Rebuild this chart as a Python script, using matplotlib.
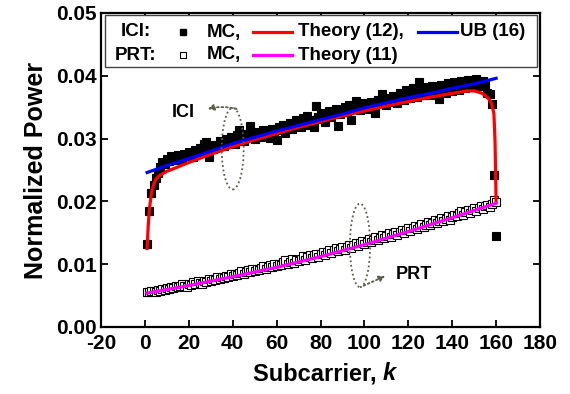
import numpy as np
import matplotlib
matplotlib.use("Agg")
import matplotlib.pyplot as plt
from matplotlib.patches import Ellipse, Rectangle
from matplotlib.lines import Line2D

# ---------------- data ----------------
k_theory_ici = [1, 1.5, 2, 3, 4, 5, 6, 7, 10, 13, 20, 30, 40, 50, 60, 70, 80, 90, 100,
                110, 120, 130, 140, 147, 150, 153, 155, 157, 158, 159, 159.5, 159.8, 160]
theory_ici = [0.0125, 0.0160, 0.0186, 0.0214, 0.0227, 0.0235, 0.0239, 0.0242, 0.0248, 0.0252,
              0.0262, 0.0275, 0.0287, 0.0298, 0.0308, 0.0318, 0.0327, 0.0336, 0.0344,
              0.0352, 0.0359, 0.0366, 0.0372, 0.0376, 0.0376, 0.0373, 0.0369, 0.0362,
              0.0355, 0.0340, 0.0297, 0.0240, 0.0199]

k_ub = [1, 10, 20, 30, 40, 50, 60, 70, 80, 90, 100, 110, 120, 130, 140, 150, 160]
ub_ici = [0.0246, 0.0257, 0.0268, 0.0280, 0.0292, 0.0302, 0.0312, 0.0321, 0.0330, 0.0339,
          0.0349, 0.0357, 0.0365, 0.0372, 0.0380, 0.0387, 0.0396]

k_theory_prt = [1, 20, 40, 60, 80, 100, 120, 140, 160]
theory_prt = [0.0054, 0.0066, 0.0080, 0.0095, 0.0112, 0.0131, 0.0152, 0.0174, 0.0197]

k_mc = list(range(1, 161))
mc_ici = [
    0.0132, 0.0184, 0.0213, 0.0226, 0.0238, 0.0246, 0.0255, 0.0262, 0.0259, 0.0268,
    0.0264, 0.0272, 0.0270, 0.0266, 0.0274, 0.0271, 0.0268, 0.0276, 0.0273, 0.0279,
    0.0275, 0.0271, 0.0282, 0.0278, 0.0285, 0.0281, 0.0292, 0.0294, 0.0270, 0.0286,
    0.0283, 0.0290, 0.0287, 0.0296, 0.0292, 0.0289, 0.0299, 0.0294, 0.0302, 0.0297,
    0.0291, 0.0305, 0.0313, 0.0300, 0.0296, 0.0308, 0.0304, 0.0320, 0.0306, 0.0299,
    0.0311, 0.0308, 0.0303, 0.0314, 0.0310, 0.0306, 0.0301, 0.0316, 0.0312, 0.0297,
    0.0318, 0.0314, 0.0322, 0.0309, 0.0319, 0.0325, 0.0316, 0.0321, 0.0329, 0.0324,
    0.0318, 0.0333, 0.0327, 0.0336, 0.0322, 0.0330, 0.0318, 0.0352, 0.0334, 0.0340,
    0.0331, 0.0327, 0.0338, 0.0344, 0.0335, 0.0341, 0.0347, 0.0320, 0.0339, 0.0345,
    0.0350, 0.0342, 0.0354, 0.0329, 0.0348, 0.0360, 0.0352, 0.0345, 0.0356, 0.0349,
    0.0355, 0.0347, 0.0359, 0.0353, 0.0340, 0.0362, 0.0357, 0.0371, 0.0360, 0.0354,
    0.0365, 0.0358, 0.0368, 0.0362, 0.0356, 0.0373, 0.0366, 0.0361, 0.0377, 0.0369,
    0.0364, 0.0380, 0.0372, 0.0367, 0.0390, 0.0376, 0.0370, 0.0382, 0.0375, 0.0369,
    0.0384, 0.0378, 0.0372, 0.0363, 0.0386, 0.0379, 0.0373, 0.0388, 0.0381, 0.0376,
    0.0390, 0.0383, 0.0378, 0.0392, 0.0386, 0.0380, 0.0393, 0.0388, 0.0382, 0.0391,
    0.0395, 0.0389, 0.0384, 0.0392, 0.0386, 0.0372, 0.0371, 0.0355, 0.0242, 0.0145,
]
mc_prt = [
    0.0056, 0.0055, 0.0058, 0.0057, 0.0055, 0.0059, 0.0058, 0.0061, 0.0059, 0.0062,
    0.0060, 0.0064, 0.0062, 0.0066, 0.0063, 0.0065, 0.0068, 0.0066, 0.0064, 0.0069,
    0.0067, 0.0071, 0.0069, 0.0073, 0.0070, 0.0068, 0.0074, 0.0072, 0.0076, 0.0073,
    0.0077, 0.0075, 0.0079, 0.0076, 0.0080, 0.0078, 0.0082, 0.0079, 0.0084, 0.0081,
    0.0085, 0.0083, 0.0086, 0.0089, 0.0085, 0.0088, 0.0091, 0.0087, 0.0092, 0.0089,
    0.0093, 0.0090, 0.0094, 0.0097, 0.0092, 0.0096, 0.0099, 0.0095, 0.0100, 0.0097,
    0.0101, 0.0098, 0.0103, 0.0106, 0.0100, 0.0104, 0.0108, 0.0102, 0.0107, 0.0105,
    0.0109, 0.0113, 0.0106, 0.0111, 0.0115, 0.0110, 0.0114, 0.0117, 0.0112, 0.0116,
    0.0119, 0.0114, 0.0120, 0.0123, 0.0118, 0.0122, 0.0126, 0.0121, 0.0125, 0.0128,
    0.0123, 0.0127, 0.0131, 0.0126, 0.0130, 0.0134, 0.0129, 0.0133, 0.0137, 0.0132,
    0.0136, 0.0140, 0.0135, 0.0139, 0.0143, 0.0138, 0.0142, 0.0146, 0.0141, 0.0145,
    0.0149, 0.0144, 0.0148, 0.0152, 0.0147, 0.0151, 0.0155, 0.0150, 0.0154, 0.0158,
    0.0153, 0.0157, 0.0161, 0.0156, 0.0160, 0.0164, 0.0159, 0.0163, 0.0167, 0.0162,
    0.0166, 0.0170, 0.0165, 0.0169, 0.0173, 0.0168, 0.0172, 0.0176, 0.0171, 0.0175,
    0.0179, 0.0177, 0.0181, 0.0184, 0.0178, 0.0183, 0.0187, 0.0182, 0.0186, 0.0189,
    0.0185, 0.0190, 0.0193, 0.0188, 0.0192, 0.0195, 0.0191, 0.0196, 0.0203, 0.0199,
]

x_ticks = [-20, 0, 20, 40, 60, 80, 100, 120, 140, 160, 180]
y_ticks = [0.00, 0.01, 0.02, 0.03, 0.04, 0.05]

# ---------------- figure ----------------
plt.rcParams['font.family'] = ['Liberation Sans', 'DejaVu Sans']
plt.rcParams['font.weight'] = 'bold'

W, H = 570, 394
fig = plt.figure(figsize=(W / 100, H / 100), dpi=100)
L, R, T, B = 101, 540, 13, 327
ax = fig.add_axes([L / W, 1 - B / H, (R - L) / W, (B - T) / H])

ax.plot(k_mc, mc_ici, ls='none', marker='s', ms=5.5, mfc='black', mec='black', mew=0.8, zorder=2)
ax.plot(k_mc, mc_prt, ls='none', marker='s', ms=5.5, mfc='white', mec='black', mew=0.8, zorder=2)
ax.plot(k_theory_ici, theory_ici, color='#ff0000', lw=2.3, zorder=3)
ax.plot(k_ub, ub_ici, color='#0000ff', lw=2.3, zorder=4)
ax.plot(k_theory_prt, theory_prt, color='#ff00ff', lw=2.3, zorder=3)

ax.set_xlim(-20, 180)
ax.set_ylim(0, 0.05)
ax.set_xticks(x_ticks)
ax.set_xticklabels([str(v) for v in x_ticks])
ax.set_yticks(y_ticks)
ax.set_yticklabels([f"{v:.2f}" for v in y_ticks])
ax.tick_params(direction='in', top=True, right=True, length=5, width=1.3,
               labelsize=15)
ax.tick_params(axis='x', pad=5)
ax.tick_params(axis='y', pad=3)
for s in ax.spines.values():
    s.set_linewidth(1.6)

xl_anchor = 383 / W
fig.text(xl_anchor, 1 - 374 / H, "Subcarrier, ", ha='right', va='center',
         fontsize=17, fontweight='bold')
fig.text(xl_anchor, 1 - 374 / H, "k", ha='left', va='center',
         fontsize=17, fontweight='bold', style='italic')
ax.set_ylabel("Normalized Power", fontsize=18, fontweight='bold', labelpad=6)

# ---------------- custom legend ----------------
def af(px, py):
    return ((px - L) / (R - L), (B - py) / (B - T))

x0, y0 = af(105, 67)
x1, y1 = af(537, 15)
ax.add_patch(Rectangle((x0, y0), x1 - x0, y1 - y0, transform=ax.transAxes,
                       facecolor='white', edgecolor='#444444', lw=1.0, zorder=10))
fs_leg = 13.5
rows = [(32, "ICI:"), (55, "PRT:")]
for py, lab in rows:
    ax.text(*af(136, py), lab, transform=ax.transAxes, ha='center', va='center',
            fontsize=fs_leg, fontweight='bold', zorder=11)
    ax.text(*af(207, py), "MC,", transform=ax.transAxes, ha='left', va='center',
            fontsize=fs_leg, fontweight='bold', zorder=11)
ax.add_line(Line2D([af(183, 32)[0]], [af(183, 32)[1]], transform=ax.transAxes, ls='none',
                   marker='s', ms=5, mfc='black', mec='black', zorder=11))
ax.add_line(Line2D([af(183, 55)[0]], [af(183, 55)[1]], transform=ax.transAxes, ls='none',
                   marker='s', ms=5, mfc='white', mec='black', mew=0.8, zorder=11))
for py, col, lab in [(32, '#ff0000', "Theory (12),"), (55, '#ff00ff', "Theory (11)")]:
    xa, ya = af(253, py)
    xb, _ = af(292, py)
    ax.add_line(Line2D([xa, xb], [ya, ya], transform=ax.transAxes, color=col, lw=2.3, zorder=11))
    ax.text(*af(298, py), lab, transform=ax.transAxes, ha='left', va='center',
            fontsize=fs_leg, fontweight='bold', zorder=11)
xa, ya = af(418, 32)
xb, _ = af(457, 32)
ax.add_line(Line2D([xa, xb], [ya, ya], transform=ax.transAxes, color='#0000ff', lw=2.3, zorder=11))
ax.text(*af(460, 32), "UB (16)", transform=ax.transAxes, ha='left', va='center',
        fontsize=fs_leg, fontweight='bold', zorder=11)

# ---------------- annotations ----------------
dot_col = '#5c5c4c'
ax.add_patch(Ellipse((40, 0.0284), 10, 0.0130, fill=False, ls=(0, (1, 1.5)),
                     ec=dot_col, lw=1.3, zorder=5))
ax.annotate("", xy=(27.4, 0.0346), xytext=(43, 0.0346),
            arrowprops=dict(arrowstyle='-|>', ls=(0, (1, 1.5)), color=dot_col, lw=1.3,
                            mutation_scale=9, connectionstyle='arc3,rad=0.15'), zorder=5)
ax.text(17.4, 0.0342, "ICI", ha='center', va='center', fontsize=13, fontweight='bold')

ax.add_patch(Ellipse((98, 0.0130), 9.2, 0.0133, fill=False, ls=(0, (1, 1.5)),
                     ec=dot_col, lw=1.3, zorder=5))
ax.annotate("", xy=(110.7, 0.0083), xytext=(98.5, 0.0064),
            arrowprops=dict(arrowstyle='-|>', ls=(0, (1, 1.5)), color=dot_col, lw=1.3,
                            mutation_scale=9), zorder=5)
ax.text(122.6, 0.0083, "PRT", ha='center', va='center', fontsize=13, fontweight='bold')

fig.savefig("out.png", dpi=100)
